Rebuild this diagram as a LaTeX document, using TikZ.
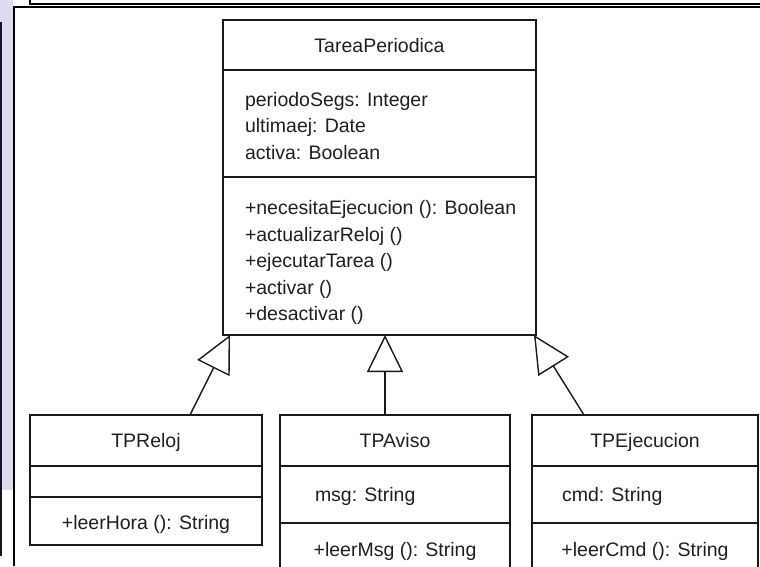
\documentclass[tikz,border=0pt]{standalone}
\usepackage{fontspec}
\setmainfont{Liberation Sans}
\usetikzlibrary{arrows.meta}
\definecolor{stripfill}{HTML}{DCDCEE}
\definecolor{stripbar}{HTML}{141428}
\begin{document}
\begin{tikzpicture}[x=1pt,y=-1pt,
  every node/.style={font=\fontsize{19.5}{26.5}\selectfont, inner sep=0pt, outer sep=0pt, text=black!88},
  compartment/.style={draw=black!90, line width=1.4pt, anchor=north west},
  leftlabel/.style={anchor=base west},
  midlabel/.style={anchor=base},
  inherits/.style={draw=black!90, line width=1.4pt, -{Triangle[open, length=37pt, width=36pt]}},
  frameline/.style={line width=1.5pt},
]
\useasboundingbox (0,0) rectangle (760,566);

% side strip and frame of the panel
\fill[stripfill] (0,0) rectangle (13,490);
\fill[stripbar] (0,22) rectangle (2,556);
\draw[frameline] (14,566) -- (14,7) -- (760,7);
\draw[line width=1.3pt] (30,0) -- (30,4) -- (760,4);

% superclass TareaPeriodica
\node[compartment, minimum width=313pt, minimum height=50pt]  (tp-name) at (223,20) {};
\node[compartment, minimum width=313pt, minimum height=107pt] (tp-attr) at (223,70) {};
\node[compartment, minimum width=313pt, minimum height=158pt] (tp-ops)  at (223,177) {};
\node[midlabel]  (tp-title) at (379.5,52) {TareaPeriodica};
\node[leftlabel] (tp-a1) at (245,106)   {periodoSegs: Integer};
\node[leftlabel] (tp-a2) at (245,132.5) {ultimaej: Date};
\node[leftlabel] (tp-a3) at (245,159)   {activa: Boolean};
\node[leftlabel] (tp-o1) at (245,214.5) {+necesitaEjecucion (): Boolean};
\node[leftlabel] (tp-o2) at (245,241)   {+actualizarReloj ()};
\node[leftlabel] (tp-o3) at (245,267.5) {+ejecutarTarea ()};
\node[leftlabel] (tp-o4) at (245,294)   {+activar ()};
\node[leftlabel] (tp-o5) at (245,320)   {+desactivar ()};

% subclass TPReloj
\node[compartment, minimum width=232pt, minimum height=51pt] (rl-name) at (30,415) {};
\node[compartment, minimum width=232pt, minimum height=31pt] (rl-attr) at (30,466) {};
\node[compartment, minimum width=232pt, minimum height=48pt] (rl-ops)  at (30,497) {};
\node[midlabel] (rl-title) at (146,447.5) {TPReloj};
\node[midlabel] (rl-o1)    at (146,529)   {+leerHora (): String};

% subclass TPAviso
\node[compartment, minimum width=230pt, minimum height=51pt] (av-name) at (280,415) {};
\node[compartment, minimum width=230pt, minimum height=57pt] (av-attr) at (280,466) {};
\node[compartment, minimum width=230pt, minimum height=60pt] (av-ops)  at (280,523) {};
\node[midlabel]  (av-title) at (395,447.5) {TPAviso};
\node[leftlabel] (av-a1)    at (315,501)   {msg: String};
\node[midlabel]  (av-o1)    at (395,556)   {+leerMsg (): String};

% subclass TPEjecucion
\node[compartment, minimum width=226pt, minimum height=51pt] (ej-name) at (532,415) {};
\node[compartment, minimum width=226pt, minimum height=57pt] (ej-attr) at (532,466) {};
\node[compartment, minimum width=226pt, minimum height=60pt] (ej-ops)  at (532,523) {};
\node[midlabel]  (ej-title) at (645,447.5) {TPEjecucion};
\node[leftlabel] (ej-a1)    at (562,501)   {cmd: String};
\node[midlabel]  (ej-o1)    at (645,556)   {+leerCmd (): String};

% generalisation arrows
\draw[inherits] ([xshift=160pt]rl-name.north west) -- ([xshift=7pt]tp-ops.south west);
\draw[inherits] ([xshift=-10pt]av-name.north) -- ([xshift=5.5pt]tp-ops.south);
\draw[inherits] ([xshift=52pt]ej-name.north west) -- ([xshift=-2pt]tp-ops.south east);
\end{tikzpicture}
\end{document}
